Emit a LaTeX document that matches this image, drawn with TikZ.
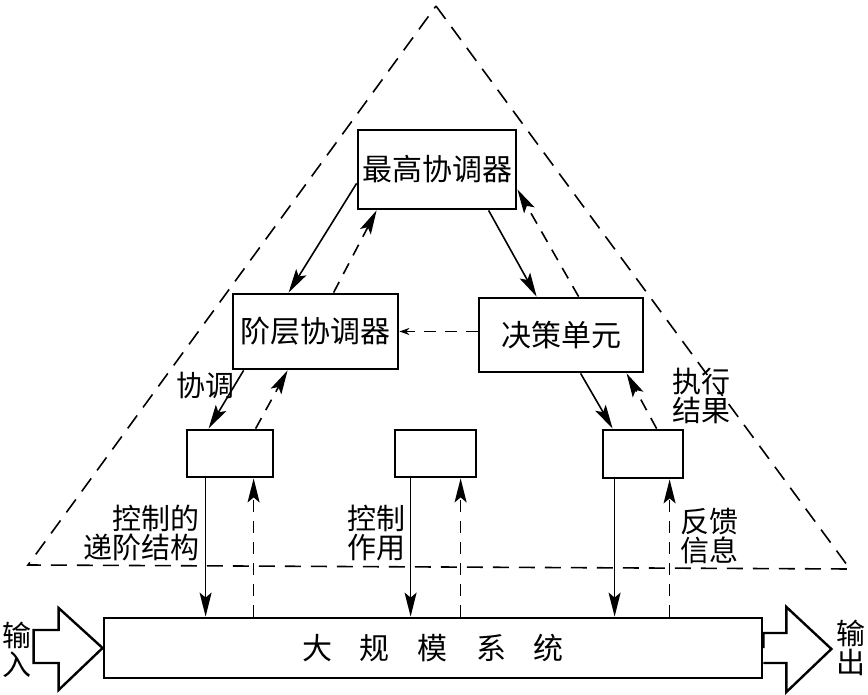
\documentclass[tikz,border=0pt]{standalone}
\usepackage{fontspec}
\setmainfont{Noto Sans CJK SC}
\usetikzlibrary{arrows.meta}

\begin{document}
\begin{tikzpicture}[x=0.5pt,y=-0.5pt,
	box/.style={draw,line width=1.4pt,inner sep=0pt,font=\fontsize{15}{18}\selectfont},
	ctl/.style={line width=0.8pt,-{Stealth[length=12pt,width=6pt,inset=2.5pt]}},
	fb/.style={ctl,dash pattern=on 6pt off 4.5pt},
	lbl/.style={font=\fontsize{14.5}{14.5}\selectfont,inner sep=0pt}]
	\useasboundingbox (0,0) rectangle (868,695);
	\draw[dash pattern=on 8pt off 5pt,line width=0.8pt] (436,6) -- (850,569) -- (28,565) -- cycle;

	\node[box,minimum width=79pt,minimum height=39.5pt] (chief) at (437,169.5) {最高协调器};
	\node[box,minimum width=82.5pt,minimum height=37.5pt] (hier) at (315.5,331.5) {阶层协调器};
	\node[box,minimum width=82pt,minimum height=37pt] (dec) at (561,335) {决策单元};
	\node[box,minimum width=43pt,minimum height=23.5pt] (subl) at (230,453.5) {};
	\node[box,minimum width=40.5pt,minimum height=23.5pt] (subm) at (435.5,453.5) {};
	\node[box,minimum width=40pt,minimum height=24pt] (subr) at (643,454) {};
	\node[box,minimum width=329pt,minimum height=30pt] (sys) at (433,648)
		{大\hspace{14pt}规\hspace{14pt}模\hspace{14pt}系\hspace{14pt}统};

	\draw[ctl] ([yshift=13.5pt]chief.south west) -- ([xshift=28.5pt]hier.north west);
	\draw[fb] ([xshift=51pt]hier.north west) -- ([xshift=10pt]chief.south west);
	\draw[ctl] ([xshift=66pt]chief.south west) -- ([xshift=29.5pt]dec.north west);
	\draw[fb] ([xshift=50.5pt]dec.north west) -- ([yshift=10.5pt]chief.south east);
	\draw[fb,-{Stealth[length=5pt,width=3.5pt]}] (dec.west |- hier.east) -- (hier.east);

	\draw[ctl] ([xshift=6pt]hier.south west) -- ([xshift=11.5pt]subl.north west);
	\draw[fb] ([xshift=35pt]subl.north west) -- ([xshift=28pt]hier.south west);
	\draw[ctl] ([xshift=51.5pt]dec.south west) -- ([xshift=5.5pt]subr.north west);
	\draw[fb] ([xshift=27.5pt]subr.north west) -- ([xshift=74.5pt]dec.south west);

	\draw[ctl] ([xshift=10pt]subl.south west) -- ([xshift=10pt]subl.south west |- sys.north);
	\draw[fb] ([xshift=34pt]subl.south west |- sys.north) -- ([xshift=34pt]subl.south west);
	\draw[ctl] ([xshift=8.5pt]subm.south west) -- ([xshift=8.5pt]subm.south west |- sys.north);
	\draw[fb] ([xshift=33.5pt]subm.south west |- sys.north) -- ([xshift=33.5pt]subm.south west);
	\draw[ctl] ([xshift=6.5pt]subr.south west) -- ([xshift=6.5pt]subr.south west |- sys.north);
	\draw[fb] ([xshift=34pt]subr.south west |- sys.north) -- ([xshift=34pt]subr.south west);

	% input and output
	\draw[line width=1.2pt] (sys.west) -- ++(-44,-40) -- ++(0,22) -- ++(-25,0) -- ++(0,33)
		-- ++(25,0) -- ++(0,27) -- cycle;
	\draw[line width=1.2pt] (sys.east) -- ++(0,-15) -- ++(23,0) -- ++(0,-26) -- ++(45,42)
		-- ++(-45,43) -- ++(0,-29) -- ++(-23,0);

	\node[lbl,align=center] (inp) at (17,650) {输\\入};
	\node[lbl,align=center] (outp) at (851,648) {输\\出};
	\node[lbl] (coord) at (205,385) {协调};
	\node[lbl,align=right,anchor=east] (ctlhier) at (200,533) {控制的\\递阶结构};
	\node[lbl,align=right,anchor=east] (ctlact) at (406,533) {控制\\作用};
	\node[lbl,align=left,anchor=west] (feed) at (680,536) {反馈\\信息};
	\node[lbl,align=left,anchor=west] (exec) at (672,396) {执行\\结果};
\end{tikzpicture}
\end{document}
